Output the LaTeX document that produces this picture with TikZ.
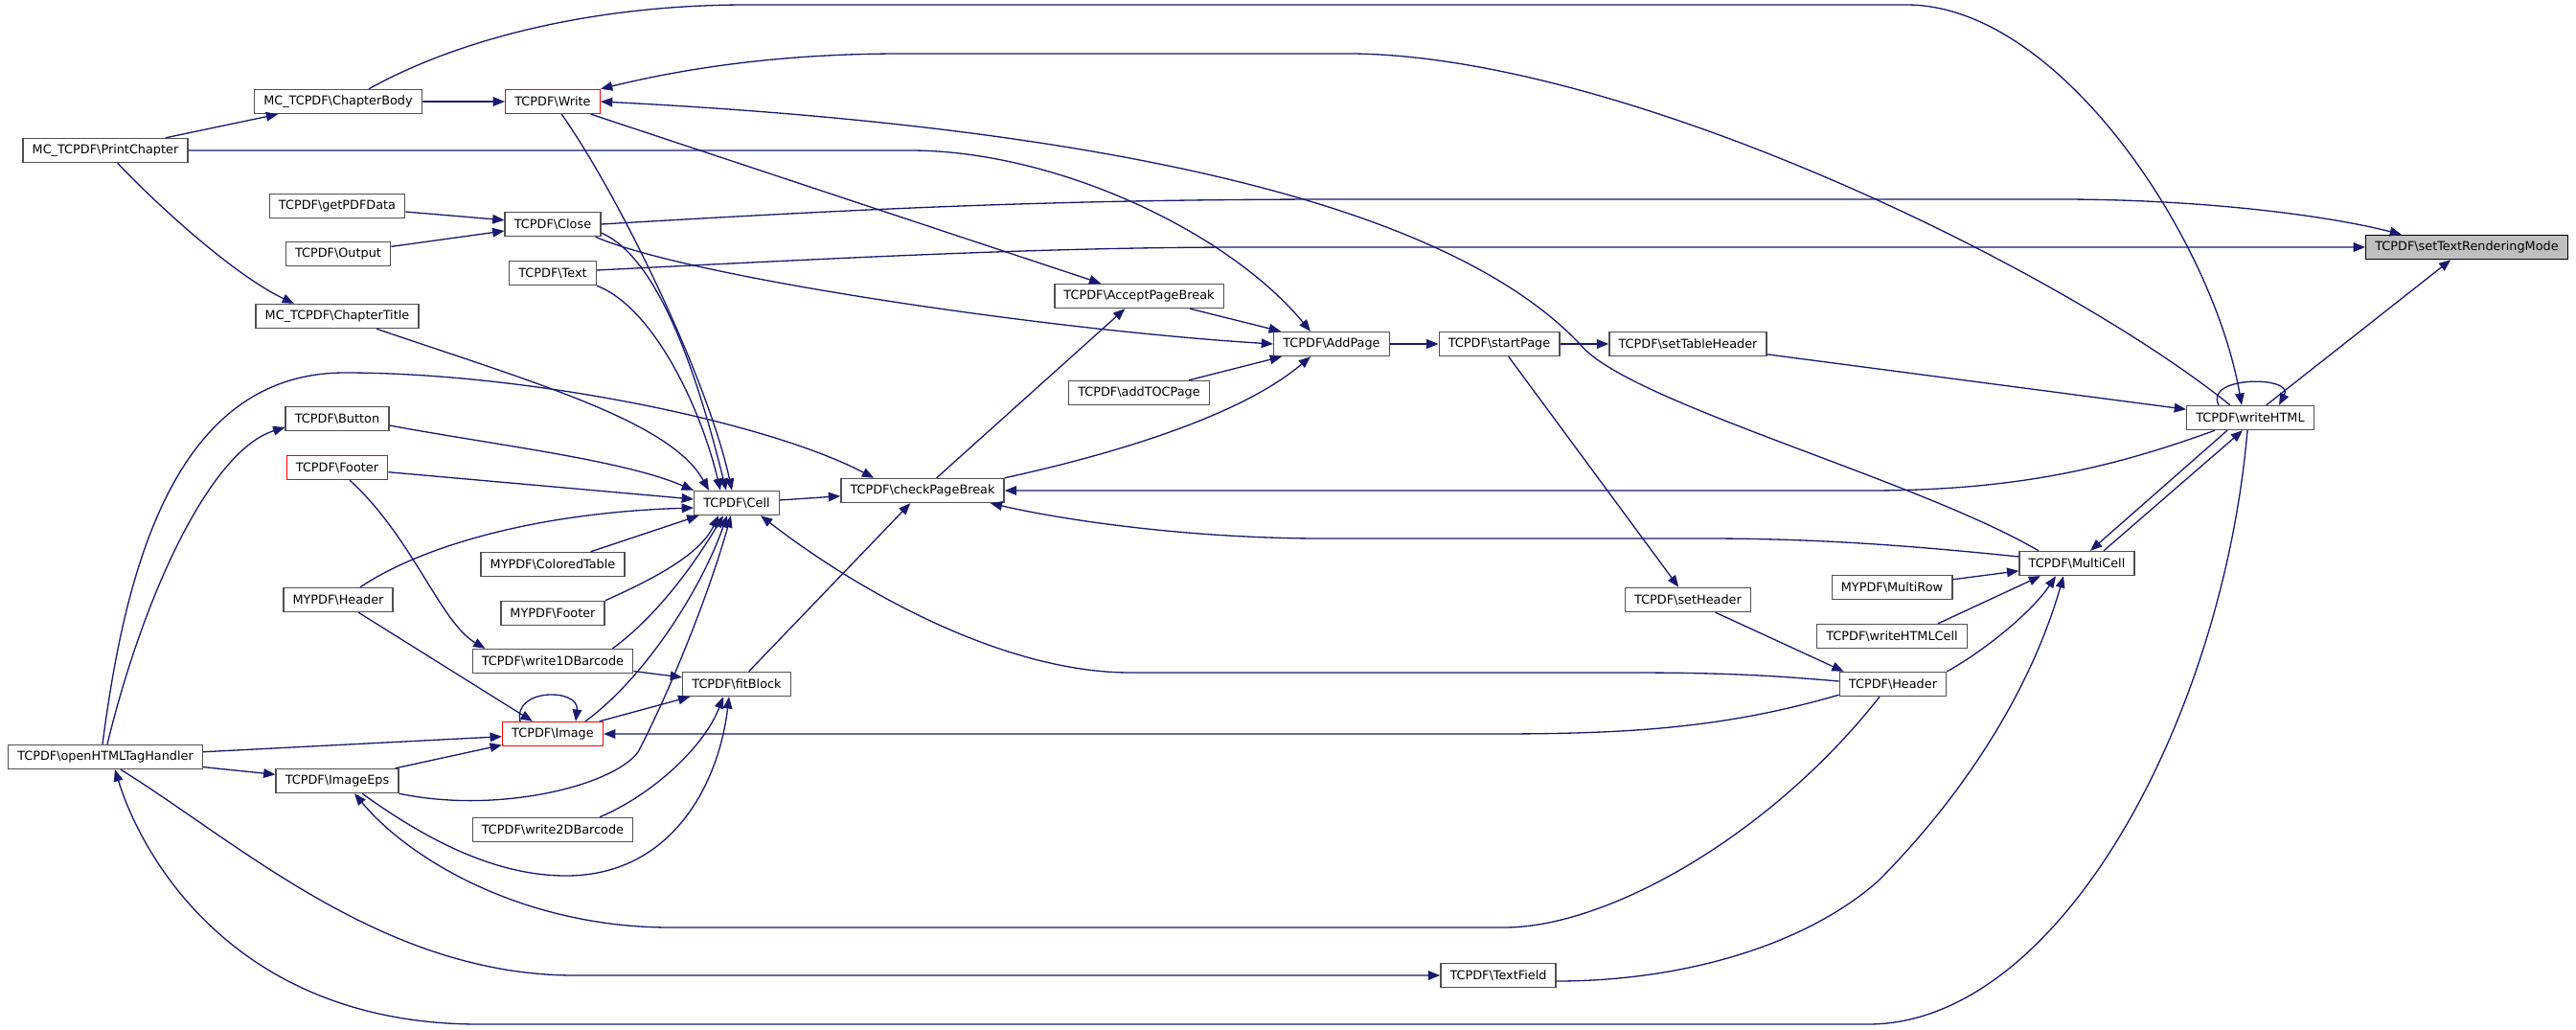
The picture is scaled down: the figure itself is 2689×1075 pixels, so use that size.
\documentclass[tikz,border=0pt]{standalone}
\usepackage{fontspec}
\setmainfont{DejaVu Sans}
\usepackage{tikz}
\usetikzlibrary{arrows.meta, calc}
\definecolor{edgeblue}{HTML}{191970}
\definecolor{boxline}{HTML}{505050}
\definecolor{rootgray}{HTML}{BFBFBF}

\begin{document}
\begin{tikzpicture}[x=0.02cm, y=-0.02cm,
    fn/.style={draw=boxline, line width=0.8pt, fill=white, minimum height=0.5cm,
      inner xsep=5.5pt, inner ysep=0pt, font=\fontsize{7.3}{8}\selectfont},
    fnred/.style={fn, draw=red},
    fnroot/.style={fn, fill=rootgray, draw=black},
    call/.style={draw=edgeblue, line width=0.75pt, -{Triangle[length=7pt, width=5.5pt]}}]
    \useasboundingbox (0,0) rectangle (2689,1075);

    \node[fnroot] (strm) at (2575,258) {TCPDF\textbackslash setTextRenderingMode};
    \node[fn] (whtml) at (2349,436) {TCPDF\textbackslash writeHTML};
    \node[fn] (mcell) at (2168,588) {TCPDF\textbackslash MultiCell};
    \node[fn] (mrow) at (1975,613) {MYPDF\textbackslash MultiRow};
    \node[fn] (whcell) at (1975,664) {TCPDF\textbackslash writeHTMLCell};
    \node[fn] (hdr) at (1976,714) {TCPDF\textbackslash Header};
    \node[fn] (sethdr) at (1762,626) {TCPDF\textbackslash setHeader};
    \node[fn] (stabh) at (1762,359) {TCPDF\textbackslash setTableHeader};
    \node[fn] (start) at (1565,359) {TCPDF\textbackslash startPage};
    \node[fn] (addp) at (1390,359) {TCPDF\textbackslash AddPage};
    \node[fn] (acc) at (1189,309) {TCPDF\textbackslash AcceptPageBreak};
    \node[fn] (toc) at (1189,410) {TCPDF\textbackslash addTOCPage};
    \node[fn] (tfield) at (1564,1018) {TCPDF\textbackslash TextField};
    \node[fn] (cpb) at (963,512) {TCPDF\textbackslash checkPageBreak};
    \node[fn] (cell) at (769,525) {TCPDF\textbackslash Cell};
    \node[fn] (fit) at (769,714) {TCPDF\textbackslash fitBlock};
    \node[fnred] (write) at (577,106) {TCPDF\textbackslash Write};
    \node[fn] (close) at (577,234) {TCPDF\textbackslash Close};
    \node[fn] (text) at (577,285) {TCPDF\textbackslash Text};
    \node[fn] (ctab) at (577,589) {MYPDF\textbackslash ColoredTable};
    \node[fn] (myfoot) at (577,640) {MYPDF\textbackslash Footer};
    \node[fn] (wbar1) at (577,690) {TCPDF\textbackslash write1DBarcode};
    \node[fnred] (img) at (577,766) {TCPDF\textbackslash Image};
    \node[fn] (wbar2) at (577,866) {TCPDF\textbackslash write2DBarcode};
    \node[fn] (cbody) at (353,106) {MC\_TCPDF\textbackslash ChapterBody};
    \node[fn] (getpdf) at (352,215) {TCPDF\textbackslash getPDFData};
    \node[fn] (out) at (353,265) {TCPDF\textbackslash Output};
    \node[fn] (ctitle) at (352,330) {MC\_TCPDF\textbackslash ChapterTitle};
    \node[fn] (btn) at (352,437) {TCPDF\textbackslash Button};
    \node[fnred] (foot) at (352,488) {TCPDF\textbackslash Footer};
    \node[fn] (myhdr) at (353,626) {MYPDF\textbackslash Header};
    \node[fn] (eps) at (352,815) {TCPDF\textbackslash ImageEps};
    \node[fn] (pchap) at (110,157) {MC\_TCPDF\textbackslash PrintChapter};
    \node[fn] (ohtml) at (110,790) {TCPDF\textbackslash openHTMLTagHandler};

    \draw[call] (pchap) -- (cbody);
    \draw[call] (pchap) .. controls (175,225) and (250,290) .. ($(ctitle.north)+(-45,0)$);
    \draw[call] (pchap.east) -- (950,157) .. controls (1100,157) and (1280,240) .. ($(addp.north)+(-22,0)$);
    \draw[call] (cbody) -- (write);
    \draw[call] ($(cbody.north)+(32,0)$) .. controls (480,40) and (620,5) .. (780,5) -- (1990,5) .. controls (2150,5) and (2310,250) .. ($(whtml.north)+(-9,0)$);
    \draw[call] (getpdf) -- (close);
    \draw[call] (out) -- (close);
    \draw[call] (close.east) .. controls (900,218) and (1100,208) .. (1400,208) -- (2150,208) .. controls (2300,208) and (2430,225) .. ($(strm.north west)+(38,0)$);
    \draw[call] ($(close.south east)+(-6,0)$) .. controls (720,290) and (1100,345) .. (addp.west);
    \draw[call] ($(close.east)+(0,9)$) .. controls (690,270) and (730,400) .. ($(cell.north)+(-11,0)$);
    \draw[call] ($(text.east)+(0,-3)$) .. controls (900,268) and (1100,258) .. (1300,258) -- (strm.west);
    \draw[call] (text.south east) .. controls (680,320) and (730,420) .. ($(cell.north)+(-17,0)$);
    \draw[call] (write) .. controls (650,210) and (740,400) .. ($(cell.north)+(-5,0)$);
    \draw[call] (write) -- (acc);
    \draw[call] ($(ctitle.south)+(41,0)$) .. controls (560,400) and (700,440) .. ($(cell.north)+(-29,0)$);
    \draw[call] ($(btn.east)+(0,7)$) .. controls (520,465) and (650,480) .. (cell.north west);
    \draw[call] (foot) -- (cell);
    \draw[call] ($(foot.south)+(13,0)$) .. controls (430,560) and (460,650) .. ($(wbar1.north west)+(14,0)$);
    \draw[call] ($(myhdr.north)+(23,0)$) .. controls (440,570) and (560,535) .. ($(cell.west)+(0,5)$);
    \draw[call] (myhdr) -- (img);
    \draw[call] (ctab) -- (cell);
    \draw[call] (myfoot.north east) .. controls (680,605) and (730,580) .. ($(cell.south)+(-19,0)$);
    \draw[call] ($(wbar1.north east)+(-22,0)$) .. controls (690,640) and (730,580) .. ($(cell.south)+(-14,0)$);
    \draw[call] (wbar1) -- (fit);
    \draw[call] ($(img.north)+(34,0)$) .. controls (670,710) and (730,620) .. ($(cell.south)+(-10,0)$);
    \draw[call] ($(img.north)+(-34,0)$) .. controls (535,718) and (605,718) .. ($(img.north)+(24,0)$);
    \draw[call] (img) -- (fit);
    \draw[call] (ohtml) -- (img);
    \draw[call] (ohtml) -- (eps);
    \draw[call] (eps) -- (img);
    \draw[call] (eps.south east) .. controls (520,850) and (640,820) .. (666,785) .. controls (700,720) and (740,620) .. ($(cell.south)+(-6,0)$);
    \draw[call] ($(eps.south)+(26,0)$) .. controls (450,880) and (520,914) .. (591,914) .. controls (700,914) and (750,820) .. ($(fit.south)+(-8,0)$);
    \draw[call] ($(wbar2.north)+(49,0)$) .. controls (680,830) and (735,780) .. ($(fit.south)+(-14,0)$);
    \draw[call] (fit) -- (cpb);
    \draw[call] (cell) -- (cpb);
    \draw[call] (cpb) -- (acc);
    \draw[call] (cpb.north east) .. controls (1180,470) and (1300,430) .. ($(addp.south)+(-22,0)$);
    \draw[call] (acc) -- (addp);
    \draw[call] (toc) -- (addp);
    \draw[call] (addp) -- (start);
    \draw[call] (start) -- (stabh);
    \draw[call] (start) -- (sethdr);
    \draw[call] (sethdr) -- ($(hdr.north west)+(5,0)$);
    \draw[call] (stabh) -- (whtml);
    \draw[call] (whtml) -- (strm);
    \draw[call] ($(whtml.north)+(-33,0)$) .. controls (2300,392) and (2395,392) .. ($(whtml.north)+(30,0)$);
    \draw[call] ($(whtml.north)+(-21,0)$) .. controls (2150,280) and (1700,60) .. (1413,56) -- (941,56) .. controls (800,56) and (700,75) .. (write.north east);
    \draw[call] ($(whtml.south west)+(30,0)$) .. controls (2200,490) and (2100,512) .. (1950,512) -- (cpb.east);
    \draw[call] ($(whtml.south)+(-24,0)$) -- ($(mcell.north)+(14,0)$);
    \draw[call] ($(mcell.north)+(28,0)$) -- ($(whtml.south)+(-8,0)$);
    \draw[call] ($(whtml.south)+(-3,0)$) .. controls (2320,750) and (2150,1069) .. (1950,1069) -- (500,1069) .. controls (250,1069) and (150,900) .. ($(ohtml.south)+(10,0)$);
    \draw[call] ($(mcell.north)+(-40,0)$) .. controls (2000,500) and (1700,420) .. (1650,360) .. controls (1500,200) and (1100,130) .. (write.east);
    \draw[call] ($(mcell.west)+(0,-7)$) .. controls (2000,570) and (1900,562) .. (1780,562) -- (1380,562) .. controls (1250,562) and (1120,545) .. ($(cpb.south east)+(-15,0)$);
    \draw[call] (mrow) -- (mcell);
    \draw[call] ($(whcell.north)+(48,0)$) -- ($(mcell.south)+(-38,0)$);
    \draw[call] (hdr.north east) .. controls (2070,680) and (2120,640) .. ($(mcell.south)+(-22,0)$);
    \draw[call] ($(tfield.east)+(0,6)$) .. controls (1750,1024) and (1880,990) .. (1960,920) .. controls (2050,830) and (2120,720) .. ($(mcell.south)+(-14,0)$);
    \draw[call] ($(hdr.west)+(0,-3)$) .. controls (1850,705) and (1800,702) .. (1700,702) -- (1180,702) .. controls (1050,702) and (900,620) .. ($(cell.south east)+(-20,0)$);
    \draw[call] ($(hdr.south west)+(0,-2)$) .. controls (1800,760) and (1700,766) .. (1560,766) -- (img.east);
    \draw[call] ($(hdr.south)+(-14,0)$) .. controls (1850,870) and (1680,968) .. (1570,968) -- (700,968) .. controls (550,968) and (430,900) .. ($(eps.south)+(18,0)$);
    \draw[call] ($(ohtml.south)+(16,0)$) .. controls (250,880) and (400,1018) .. (600,1018) -- (tfield.west);
    \draw[call] ($(ohtml.north)+(2,0)$) .. controls (150,620) and (220,470) .. ($(btn.west)+(0,9)$);
    \draw[call] ($(ohtml.north)+(-3,0)$) .. controls (130,600) and (180,389) .. (360,389) .. controls (550,389) and (800,440) .. ($(cpb.north west)+(35,0)$);
\end{tikzpicture}
\end{document}
